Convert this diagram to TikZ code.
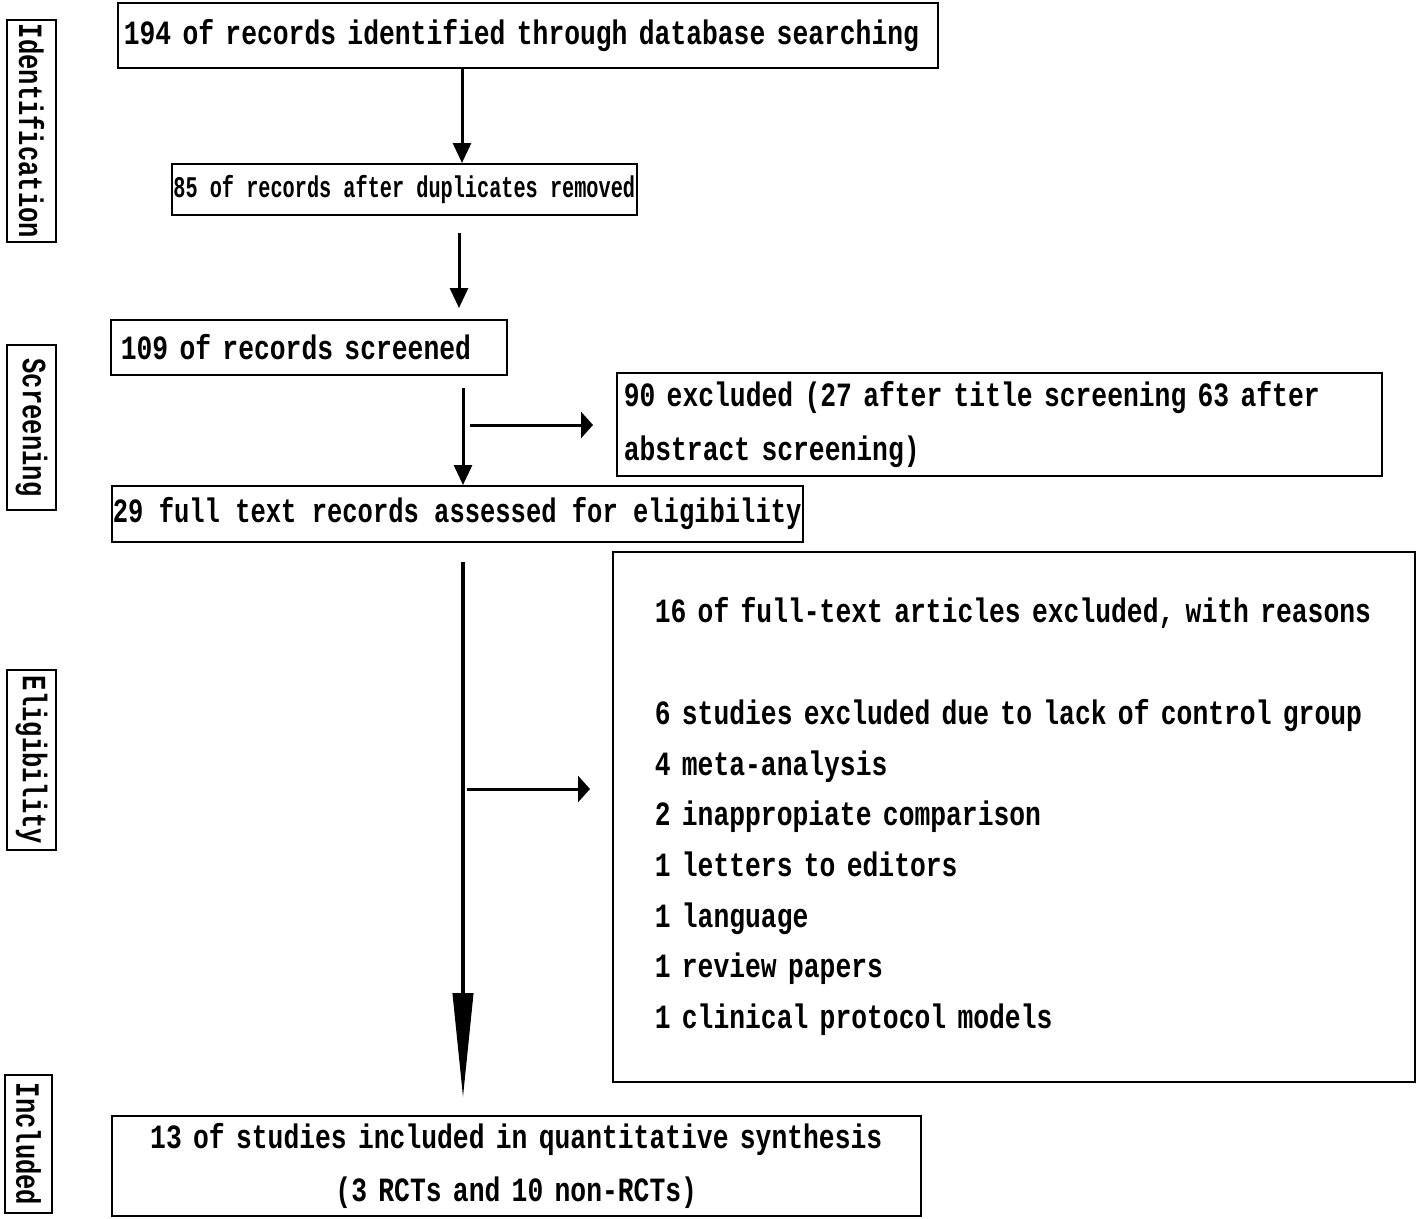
\documentclass[tikz,border=0pt]{standalone}
\usepackage{fontspec}
\newfontfamily\flowfont{Liberation Mono}[FakeStretch=0.775]
\newfontfamily\tightfont{Liberation Mono}[FakeStretch=0.75]
\newfontfamily\dupfont{Liberation Mono}[FakeStretch=0.675]
\usetikzlibrary{arrows.meta}
\tikzset{
myBox/.style={
	rectangle, draw, line width=1.5pt, anchor=north west,
	inner ysep=0pt, align=left,
	font=\flowfont\bfseries\fontsize{34}{53}\selectfont
}
, myStage/.style={
	rectangle, draw, line width=1.5pt, rotate=-90,
	inner sep=0pt, minimum height=49pt,
	font=\tightfont\bfseries\fontsize{34}{40}\selectfont
}
% links
, myArrow/.style={-{Triangle[length=20pt,width=18pt]}, line width=3pt}
, mySide/.style={-{Triangle[length=12pt,width=26pt]}, line width=3pt}
, myMain/.style={-{Triangle[length=105pt,width=20pt]}, line width=4pt}
}
\begin{document}
\begin{tikzpicture}[x=1pt,y=-1pt]
	\useasboundingbox (0,0) rectangle (1416,1218);
	% stages
	\node[myStage, minimum width=222pt] (Ident)  at (31.5,131)   {Identification};
	\node[myStage, minimum width=165pt] (Screen) at (31.5,427.5) {Screening};
	\node[myStage, minimum width=180pt] (Elig)   at (31.5,760)   {Eligibility};
	\node[myStage, minimum width=138pt, minimum height=47pt] (Incl) at (28.5,1144) {Included};
	% boxes
	\node[myBox, text width=808pt, inner xsep=6pt, minimum height=65pt] (Records) at (117,2)
		{194 of records identified through database searching};
	\node[myBox, font=\dupfont\bfseries\fontsize{30}{36}\selectfont,
		inner xsep=0pt, minimum width=465pt, minimum height=51pt] (Dedup) at (171,163)
		{85 of records after duplicates removed};
	\node[myBox, text width=376pt, inner xsep=10pt, minimum height=55pt] (Screened) at (110,319)
		{109 of records screened};
	\node[myBox, text width=751pt, inner xsep=7pt, minimum height=103pt,
		font=\flowfont\bfseries\fontsize{34}{54}\selectfont] (ExclTitle) at (616,372)
		{90 excluded (27 after title screening 63 after\\abstract screening)};
	\node[myBox, inner xsep=0pt, minimum width=691pt, minimum height=56pt,
		font=\tightfont\bfseries\fontsize{34}{53}\selectfont] (FullText) at (111,485)
		{29 full text records assessed for eligibility};
	\node[myBox, text width=718pt, inner xsep=42pt, minimum height=530pt,
		font=\flowfont\bfseries\fontsize{34}{50.7}\selectfont] (ExclFull) at (612,551)
		{16 of full-text articles excluded, with reasons\\[50.7pt]
		 6 studies excluded due to lack of control group\\
		 4 meta-analysis\\
		 2 inappropiate comparison\\
		 1 letters to editors\\
		 1 language\\
		 1 review papers\\
		 1 clinical protocol models};
	\node[myBox, text width=809pt, inner xsep=0pt, minimum height=100pt, align=center] (Included) at (111,1115)
		{13 of studies included in quantitative synthesis\hspace*{22pt}\\(3 RCTs and 10 non-RCTs)\hspace*{22pt}};
	% links
	\coordinate (a1)  at (462,0);
	\coordinate (a2s) at (459,233);
	\coordinate (a2e) at (459,308);
	\coordinate (a3s) at (463,388);
	\coordinate (s1s) at (470,425);
	\coordinate (s1e) at (593,425);
	\coordinate (a4s) at (463,562);
	\coordinate (a4e) at (463,1098);
	\coordinate (s2s) at (467,789);
	\coordinate (s2e) at (590,789);
	\draw [myArrow] (Records.south -| a1) to (Dedup.north -| a1);
	\draw [myArrow] (a2s) to (a2e);
	\draw [myArrow] (a3s) to (FullText.north -| a3s);
	\draw [mySide] (s1s) to (s1e);
	\draw [myMain] (a4s) to (a4e);
	\draw [mySide] (s2s) to (s2e);
\end{tikzpicture}
\end{document}
